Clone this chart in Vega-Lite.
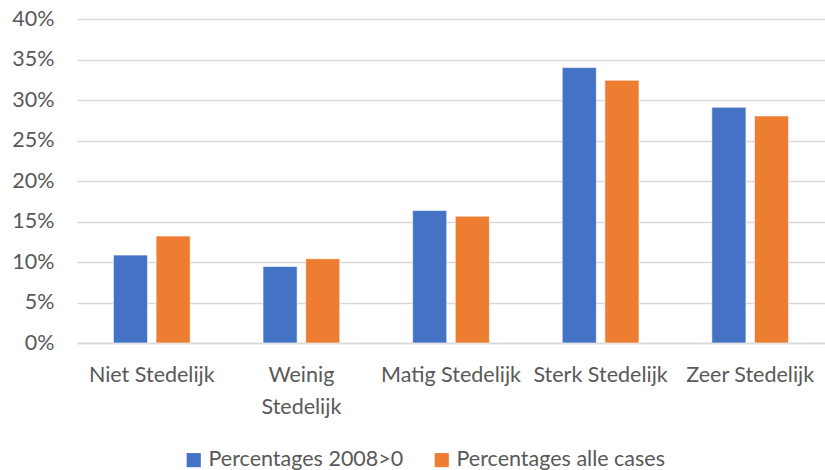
{
  "$schema": "https://vega.github.io/schema/vega-lite/v6.json",
  "width": 748,
  "height": 324,
  "autosize": {"type": "none"},
  "padding": {"left": 77, "top": 19, "right": 0, "bottom": 127},
  "background": "white",
  "config": {
    "view": {"stroke": null},
    "font": "Lato",
    "axis": {"labelFont": "Lato", "labelColor": "#595959", "labelFontSize": 21.5},
    "legend": {"labelFont": "Lato", "labelColor": "#595959", "labelFontSize": 21.5}
  },
  "data": {
    "values": [
      {"categorie": "Niet Stedelijk", "reeks": "Percentages 2008>0", "waarde": 0.1085},
      {"categorie": "Niet Stedelijk", "reeks": "Percentages alle cases", "waarde": 0.132},
      {"categorie": "Weinig Stedelijk", "reeks": "Percentages 2008>0", "waarde": 0.0945},
      {"categorie": "Weinig Stedelijk", "reeks": "Percentages alle cases", "waarde": 0.104},
      {"categorie": "Matig Stedelijk", "reeks": "Percentages 2008>0", "waarde": 0.1635},
      {"categorie": "Matig Stedelijk", "reeks": "Percentages alle cases", "waarde": 0.1566},
      {"categorie": "Sterk Stedelijk", "reeks": "Percentages 2008>0", "waarde": 0.34},
      {"categorie": "Sterk Stedelijk", "reeks": "Percentages alle cases", "waarde": 0.3244},
      {"categorie": "Zeer Stedelijk", "reeks": "Percentages 2008>0", "waarde": 0.291},
      {"categorie": "Zeer Stedelijk", "reeks": "Percentages alle cases", "waarde": 0.2803}
    ]
  },
  "mark": {"type": "bar", "stroke": "white", "strokeWidth": 0.6},
  "encoding": {
    "x": {
      "field": "categorie",
      "type": "nominal",
      "sort": null,
      "scale": {"paddingInner": 0.487, "paddingOuter": 0.2435},
      "axis": {
        "title": null,
        "labelAngle": 0,
        "ticks": false,
        "domainColor": "#d9d9d9",
        "domainWidth": 1.5,
        "labelPadding": 21,
        "labelLineHeight": 32,
        "labelLimit": 200,
        "labelExpr": "datum.label == 'Weinig Stedelijk' ? ['Weinig', 'Stedelijk'] : datum.label"
      }
    },
    "xOffset": {
      "field": "reeks",
      "type": "nominal",
      "scale": {"paddingInner": 0.2, "paddingOuter": 0}
    },
    "y": {
      "field": "waarde",
      "type": "quantitative",
      "scale": {"domain": [0, 0.4], "nice": false},
      "axis": {
        "title": null,
        "format": ".0%",
        "values": [0, 0.05, 0.1, 0.15, 0.2, 0.25, 0.3, 0.35, 0.4],
        "ticks": false,
        "domain": false,
        "gridColor": "#d9d9d9",
        "gridWidth": 1.5,
        "labelPadding": 23
      }
    },
    "color": {
      "field": "reeks",
      "type": "nominal",
      "scale": {"range": ["#4472C4", "#ED7D31"]},
      "legend": {
        "title": null,
        "orient": "none",
        "direction": "horizontal",
        "legendX": 106,
        "legendY": 430,
        "symbolType": "square",
        "symbolSize": 200,
        "symbolStrokeWidth": 0,
        "columnPadding": 27,
        "labelOffset": 4,
        "labelLimit": 400
      }
    }
  }
}
